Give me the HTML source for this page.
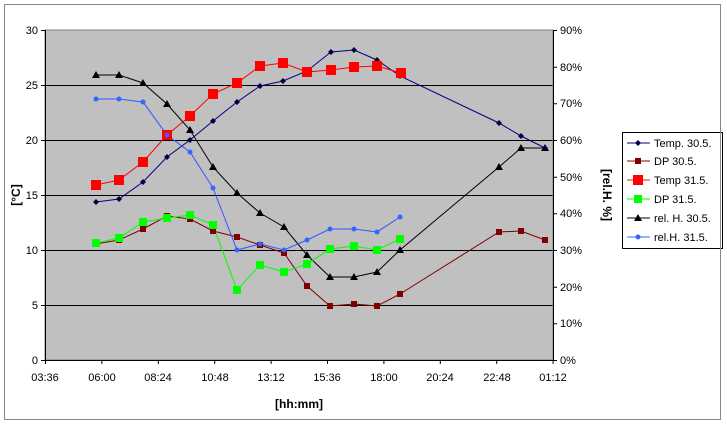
<!DOCTYPE html><html><head><style>body{margin:0;background:#fff}svg{display:block;font-family:"Liberation Sans",sans-serif}</style></head><body>
<svg width="727" height="425" xmlns="http://www.w3.org/2000/svg">
<rect x="4.5" y="4.5" width="716" height="415" fill="#fff" stroke="#888"/>
<rect x="45" y="30" width="508" height="330" fill="#c0c0c0"/>
<g stroke="#000" stroke-width="1">
<line x1="45" y1="85.5" x2="553" y2="85.5"/><line x1="45" y1="140.5" x2="553" y2="140.5"/><line x1="45" y1="195.5" x2="553" y2="195.5"/><line x1="45" y1="250.5" x2="553" y2="250.5"/><line x1="45" y1="305.5" x2="553" y2="305.5"/>
</g>
<rect x="45" y="30" width="508" height="330" fill="none" stroke="#808080"/>
<g stroke="#000"><line x1="45.5" y1="30" x2="45.5" y2="360"/><line x1="553.5" y1="30" x2="553.5" y2="360"/><line x1="45" y1="360.5" x2="553" y2="360.5"/>
<path d="M41 30.5h4M41 85.5h4M41 140.5h4M41 195.5h4M41 250.5h4M41 305.5h4M41 360.5h4"/>
<path d="M553 30.5h4M553 67.2h4M553 103.8h4M553 140.5h4M553 177.2h4M553 213.8h4M553 250.5h4M553 287.2h4M553 323.8h4M553 360.5h4"/>
<path d="M45.5 360v4M101.9 360v4M158.3 360v4M214.7 360v4M271.1 360v4M327.5 360v4M383.9 360v4M440.3 360v4M496.7 360v4M553.1 360v4"/>
</g>
<g font-size="11" fill="#000" text-anchor="end">
<text x="38" y="34">30</text><text x="38" y="89">25</text><text x="38" y="144">20</text><text x="38" y="199">15</text><text x="38" y="254">10</text><text x="38" y="309">5</text><text x="38" y="364">0</text>
</g>
<g font-size="11" fill="#000">
<text x="560" y="34">90%</text><text x="560" y="71">80%</text><text x="560" y="107">70%</text><text x="560" y="144">60%</text><text x="560" y="181">50%</text><text x="560" y="217">40%</text><text x="560" y="254">30%</text><text x="560" y="291">20%</text><text x="560" y="327">10%</text><text x="560" y="364">0%</text>
</g>
<g font-size="11" fill="#000" text-anchor="middle">
<text x="45" y="381">03:36</text><text x="102" y="381">06:00</text><text x="158" y="381">08:24</text><text x="215" y="381">10:48</text><text x="271" y="381">13:12</text><text x="327" y="381">15:36</text><text x="384" y="381">18:00</text><text x="440" y="381">20:24</text><text x="497" y="381">22:48</text><text x="553" y="381">01:12</text>
</g>
<text x="299" y="408" font-size="12" font-weight="bold" text-anchor="middle">[hh:mm]</text>
<text transform="translate(20 195) rotate(-90)" font-size="12" font-weight="bold" text-anchor="middle">[°C]</text>
<text transform="translate(603 195) rotate(90)" font-size="12" font-weight="bold" text-anchor="middle">[rel.H. %]</text>
<g fill="none" stroke-width="1">
<polyline stroke="#000" points="96,75 119,75 143,83 167,104 190,130 213,167 237,193 260,213 284,227 307,255 330,277 354,277 377,272 400,250 499,167 521,148 545,148"/>
<polyline stroke="#000080" points="96,202 119,199 143,182 167,157 190,140 213,121 237,102 260,86 283,81 307,71 331,52 354,50 377,60 400,76 499,123 521,136 545,148"/>
<polyline stroke="#800000" points="96,244 119,240 143,229 167,216 190,219 213,231 237,237 260,245 284,253 307,286 330,306 354,304 377,306 400,294 499,232 521,231 545,240"/>
<polyline stroke="#ff0000" points="96,185 119,180 143,162 167,135 190,116 213,94 237,83 260,66 283,63 307,72 331,70 354,67 377,66 401,73"/>
<polyline stroke="#00ff00" points="96,243 119,238 143,222 167,218 190,215 213,225 237,290 260,265 284,272 307,264 330,249 354,246 377,250 400,239"/>
<polyline stroke="#3355ff" points="96,99 119,99 143,102 167,135 190,152 213,188 237,250 260,244 284,250 307,240 330,229 354,229 377,232 400,217"/>
</g>
<g fill="#000">
<path d="M96,71l4,7h-8zM119,71l4,7h-8zM143,79l4,7h-8zM167,100l4,7h-8zM190,126l4,7h-8zM213,163l4,7h-8zM237,189l4,7h-8zM260,209l4,7h-8zM284,223l4,7h-8zM307,251l4,7h-8zM330,273l4,7h-8zM354,273l4,7h-8zM377,268l4,7h-8zM400,246l4,7h-8zM499,163l4,7h-8zM521,144l4,7h-8zM545,144l4,7h-8z"/>
</g>
<g fill="#000040">
<path d="M96,199l3,3-3,3-3-3zM119,196l3,3-3,3-3-3zM143,179l3,3-3,3-3-3zM167,154l3,3-3,3-3-3zM190,137l3,3-3,3-3-3zM213,118l3,3-3,3-3-3zM237,99l3,3-3,3-3-3zM260,83l3,3-3,3-3-3zM283,78l3,3-3,3-3-3zM307,68l3,3-3,3-3-3zM331,49l3,3-3,3-3-3zM354,47l3,3-3,3-3-3zM377,57l3,3-3,3-3-3zM400,73l3,3-3,3-3-3zM499,120l3,3-3,3-3-3zM521,133l3,3-3,3-3-3zM545,145l3,3-3,3-3-3z"/>
</g>
<g fill="#800000">
<path d="M93,241h6v6h-6zM116,237h6v6h-6zM140,226h6v6h-6zM164,213h6v6h-6zM187,216h6v6h-6zM210,228h6v6h-6zM234,234h6v6h-6zM257,242h6v6h-6zM281,250h6v6h-6zM304,283h6v6h-6zM327,303h6v6h-6zM351,301h6v6h-6zM374,303h6v6h-6zM397,291h6v6h-6zM496,229h6v6h-6zM518,228h6v6h-6zM542,237h6v6h-6z"/>
</g>
<g fill="#ff0000">
<path d="M91,180h10v10h-10zM114,175h10v10h-10zM138,157h10v10h-10zM162,130h10v10h-10zM185,111h10v10h-10zM208,89h10v10h-10zM232,78h10v10h-10zM255,61h10v10h-10zM278,58h10v10h-10zM302,67h10v10h-10zM326,65h10v10h-10zM349,62h10v10h-10zM372,61h10v10h-10zM396,68h10v10h-10z"/>
</g>
<g fill="#00ff00">
<path d="M92,239h8v8h-8zM115,234h8v8h-8zM139,218h8v8h-8zM163,214h8v8h-8zM186,211h8v8h-8zM209,221h8v8h-8zM233,286h8v8h-8zM256,261h8v8h-8zM280,268h8v8h-8zM303,260h8v8h-8zM326,245h8v8h-8zM350,242h8v8h-8zM373,246h8v8h-8zM396,235h8v8h-8z"/>
</g>
<g fill="#3366ff">
<circle cx="96" cy="99" r="2.5"/><circle cx="119" cy="99" r="2.5"/><circle cx="143" cy="102" r="2.5"/><circle cx="167" cy="135" r="2.5"/><circle cx="190" cy="152" r="2.5"/><circle cx="213" cy="188" r="2.5"/><circle cx="237" cy="250" r="2.5"/><circle cx="260" cy="244" r="2.5"/><circle cx="284" cy="250" r="2.5"/><circle cx="307" cy="240" r="2.5"/><circle cx="330" cy="229" r="2.5"/><circle cx="354" cy="229" r="2.5"/><circle cx="377" cy="232" r="2.5"/><circle cx="400" cy="217" r="2.5"/>
</g>
<rect x="622.5" y="132.5" width="100" height="116" fill="#fff" stroke="#000"/>
<g font-size="11" fill="#000">
<line x1="627" y1="143" x2="650" y2="143" stroke="#000080"/><path d="M638,140l3,3-3,3-3-3z" fill="#000040"/><text x="654" y="147">Temp. 30.5.</text>
<line x1="627" y1="161" x2="650" y2="161" stroke="#800000"/><rect x="635" y="158" width="6" height="6" fill="#800000"/><text x="654" y="165">DP 30.5.</text>
<line x1="627" y1="180" x2="650" y2="180" stroke="#f00"/><rect x="633" y="175" width="10" height="10" fill="#f00"/><text x="654" y="184">Temp 31.5.</text>
<line x1="627" y1="199" x2="650" y2="199" stroke="#0f0"/><rect x="634" y="195" width="8" height="8" fill="#0f0"/><text x="654" y="203">DP 31.5.</text>
<line x1="627" y1="218" x2="650" y2="218" stroke="#000"/><path d="M638,214l4,7h-8z"/><text x="654" y="222">rel. H. 30.5.</text>
<line x1="627" y1="237" x2="650" y2="237" stroke="#36f"/><circle cx="638" cy="237" r="2.5" fill="#36f"/><text x="654" y="241">rel.H. 31.5.</text>
</g>
<line x1="720.5" y1="4" x2="720.5" y2="420" stroke="#888"/>
</svg>
</body></html>
